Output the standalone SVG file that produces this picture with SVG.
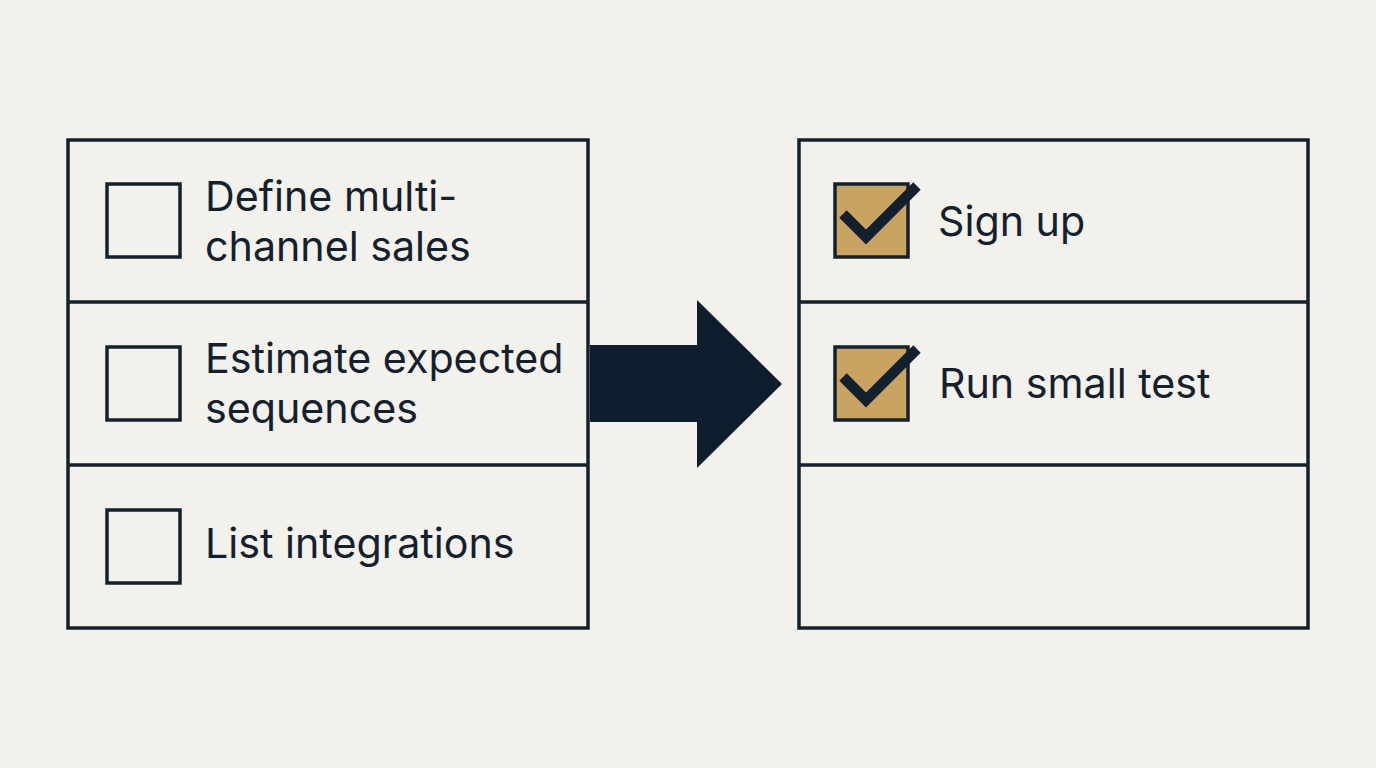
<svg xmlns="http://www.w3.org/2000/svg" width="1376" height="768" viewBox="0 0 1376 768">
<style>
.panel{fill:none;stroke:#13202d;stroke-width:3.5}
.div{stroke:#13202d;stroke-width:3.5}
.box{fill:none;stroke:#13202d;stroke-width:3.5}
.done{fill:#c9a461;stroke:#13202d;stroke-width:3.5}
.tick{fill:none;stroke:#13202d;stroke-width:10.5;stroke-linejoin:miter;stroke-linecap:butt}
.t{font-family:Inter,"Liberation Sans",sans-serif;font-size:41.2px;fill:#13202d}
</style>
<rect width="1376" height="768" fill="#f3f1ec"/>
<g id="left-panel">
<rect class="panel" x="68" y="140" width="520" height="488"/>
<line class="div" x1="68" y1="302" x2="588" y2="302"/>
<line class="div" x1="68" y1="465" x2="588" y2="465"/>
</g>
<g id="item-define">
<rect class="box" x="107" y="184" width="73" height="73"/>
<text class="t" x="205" y="211">Define multi-</text>
<text class="t" x="205" y="261">channel sales</text>
</g>
<g id="item-estimate">
<rect class="box" x="107" y="347" width="73" height="73"/>
<text class="t" x="205" y="373">Estimate expected</text>
<text class="t" x="205" y="423">sequences</text>
</g>
<g id="item-list">
<rect class="box" x="107" y="510" width="73" height="73"/>
<text class="t" x="205" y="558">List integrations</text>
</g>
<g id="connectors">
<polygon points="590,345 697,345 697,300 782,384 697,468 697,422 590,422" fill="#0e1d2e"/>
</g>
<g id="right-panel">
<rect class="panel" x="799" y="140" width="509" height="488"/>
<line class="div" x1="799" y1="302" x2="1308" y2="302"/>
<line class="div" x1="799" y1="465" x2="1308" y2="465"/>
</g>
<g id="item-signup">
<rect class="done" x="835" y="184" width="73" height="73"/>
<path class="tick" d="M843,214 L866,237 L917,186"/>
<text class="t" x="938" y="236">Sign up</text>
</g>
<g id="item-run">
<rect class="done" x="835" y="347" width="73" height="73"/>
<path class="tick" d="M843,377 L866,400 L917,349"/>
<text class="t" x="939" y="398">Run small test</text>
</g>
</svg>
